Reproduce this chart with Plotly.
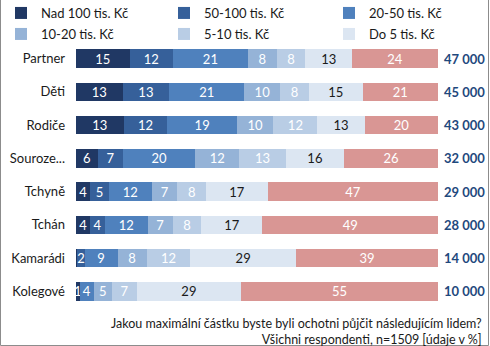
import plotly.graph_objects as go

categories = ["Partner", "Děti", "Rodiče", "Souroze...", "Tchyně", "Tchán", "Kamarádi", "Kolegové"]
series_names = ["Nad 100 tis. Kč", "50-100 tis. Kč", "20-50 tis. Kč", "10-20 tis. Kč", "5-10 tis. Kč", "Do 5 tis. Kč", "Nepůjčil(a) by"]

nad_100 = [15, 13, 13, 6, 4, 4, 0.4, 1]
od_50_100 = [12, 13, 12, 7, 5, 4, 2, 0]
od_20_50 = [21, 21, 19, 20, 12, 12, 9, 4]
od_10_20 = [8, 10, 10, 12, 7, 7, 8, 5]
od_5_10 = [8, 8, 12, 13, 8, 8, 12, 7]
do_5 = [13, 15, 13, 16, 17, 17, 29, 29]
nepujcil = [24, 21, 20, 26, 47, 49, 39, 55]
totals = ["47 000", "45 000", "43 000", "32 000", "29 000", "28 000", "14 000", "10 000"]

series = [nad_100, od_50_100, od_20_50, od_10_20, od_5_10, do_5, nepujcil]
colors = ["#203864", "#36609A", "#4F81BD", "#95B3D7", "#B9CDE5", "#DCE6F2", "#D99694"]
text_colors = ["white", "white", "white", "white", "white", "#1a1a1a", "white"]
legend_ids = ["legend", "legend2", "legend3", "legend4", "legend5", "legend6", None]

W, H = 490, 346
L, R, T, B = 76, 52, 42, 38
pw, ph = W - L - R, H - T - B

def px_x(px):
    return (px - L) / pw

def px_y(py):
    return (H - B - py) / ph

FONT = "Lato"

fig = go.Figure()
for i, (name, vals) in enumerate(zip(series_names, series)):
    fig.add_trace(go.Bar(
        y=categories, x=vals, name=name, orientation="h",
        marker=dict(color=colors[i], line=dict(width=0)),
        text=[str(round(v)) if v >= 0.5 else "" for v in vals],
        textposition="inside", insidetextanchor="middle", textangle=0,
        textfont=dict(color=text_colors[i], size=13, family=FONT),
        showlegend=legend_ids[i] is not None,
        legend=legend_ids[i] if legend_ids[i] else "legend",
        hoverinfo="skip",
    ))

for cat, tot in zip(categories, totals):
    fig.add_annotation(x=1, xref="paper", y=cat, yref="y", text="<b>" + tot + "</b>",
                       showarrow=False, xanchor="left", xshift=4,
                       font=dict(size=13, color="#1F497D", family=FONT))

fig.add_annotation(x=px_x(484), xref="paper", y=px_y(314), yref="paper",
                   text="Jakou maximální částku byste byli ochotni půjčit následujícím lidem?<br>Všichni respondenti, n=1509 [údaje v %]",
                   showarrow=False, xanchor="right", yanchor="top", align="right",
                   font=dict(size=12.5, color="#1a1a1a", family=FONT))

fig.add_shape(type="rect", xref="paper", yref="paper",
              x0=px_x(0.5), x1=px_x(488.5), y0=px_y(345.5), y1=px_y(-3),
              line=dict(color="#8c8c8c", width=1), fillcolor="rgba(0,0,0,0)", layer="below")

leg_common = dict(orientation="v", yanchor="top", xanchor="left", bgcolor="rgba(0,0,0,0)",
                  font=dict(size=13, color="#1a1a1a", family=FONT), itemclick=False)
col_px = [1, 164, 329]
row_px = [-2, 19]
legends = {}
for k, lid in enumerate(legend_ids[:6]):
    legends[lid] = dict(x=px_x(col_px[k % 3]), y=px_y(row_px[k // 3]), **leg_common)

fig.update_layout(
    width=W, height=H,
    margin=dict(l=L, r=R, t=T, b=B, autoexpand=False),
    barmode="stack", barnorm="percent", bargap=0.45,
    paper_bgcolor="white", plot_bgcolor="white",
    uniformtext=dict(mode="show", minsize=13),
    xaxis=dict(range=[0, 100], visible=False, fixedrange=True),
    yaxis=dict(categoryorder="array", categoryarray=categories, autorange="reversed",
               showline=False, showgrid=False, ticks="", ticklabelstandoff=10,
               tickfont=dict(size=13, color="#1a1a1a", family=FONT)),
    showlegend=True,
    **legends,
)

fig.write_html("out.html")
